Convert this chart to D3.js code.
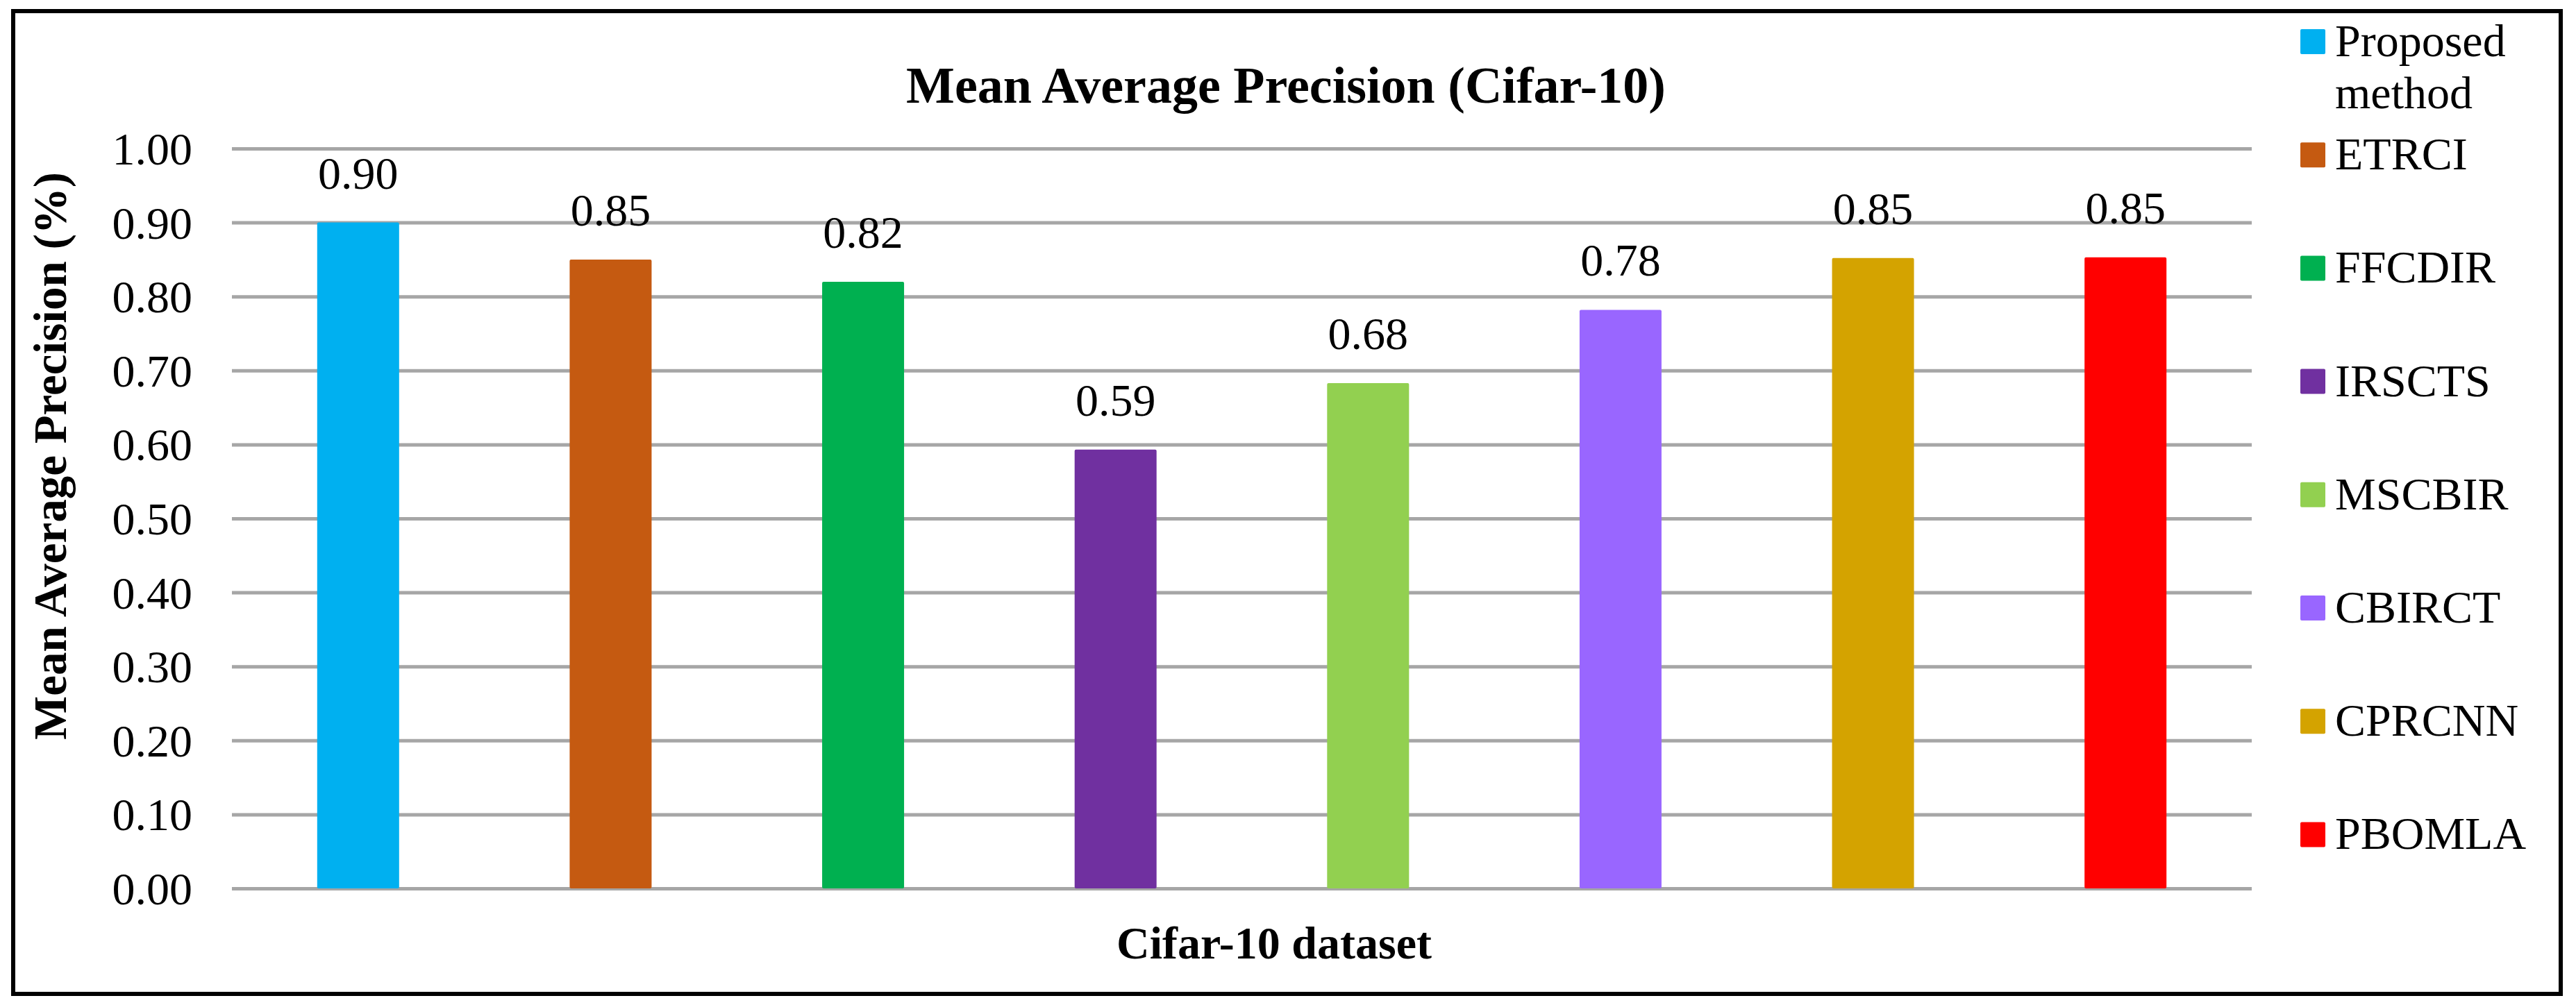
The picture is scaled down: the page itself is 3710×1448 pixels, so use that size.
<!DOCTYPE html>
<html>
<head>
<meta charset="utf-8">
<script src="https://cdn.jsdelivr.net/npm/d3@7/dist/d3.min.js"></script>
<style>
  html, body { margin: 0; padding: 0; background: #fff; }
  svg text { font-family: "Liberation Serif", "Times New Roman", serif; fill: #000; }
</style>
</head>
<body>
<svg id="chart" width="3710" height="1448"></svg>
<script>
// ---- data ----
const categories = ["Proposed method", "ETRCI", "FFCDIR", "IRSCTS", "MSCBIR", "CBIRCT", "CPRCNN", "PBOMLA"];
const values = [0.900, 0.850, 0.820, 0.593, 0.683, 0.782, 0.852, 0.853];
const colors = ["#00B0F0", "#C55A11", "#00B050", "#7030A0", "#92D050", "#9966FF", "#D4A300", "#FF0000"];
const yTicks = [0, 0.1, 0.2, 0.3, 0.4, 0.5, 0.6, 0.7, 0.8, 0.9, 1.0];
const chartTitle = "Mean Average Precision (Cifar-10)";
const yTitle = "Mean Average Precision (%)";
const xTitle = "Cifar-10 dataset";

// ---- layout ----
const FONT = "'Liberation Serif', 'Times New Roman', serif";
const plot = { left: 334, right: 3243, top: 214, bottom: 1280 };

const svg = d3.select("#chart");

// outer border
svg.append("rect")
  .attr("x", 19).attr("y", 16)
  .attr("width", 3669).attr("height", 1416)
  .attr("fill", "#fff").attr("stroke", "#000").attr("stroke-width", 6);

const x = d3.scaleBand().domain(categories).range([plot.left, plot.right]).paddingInner(0.675).paddingOuter(0.3375);
const y = d3.scaleLinear().domain([0, 1]).range([plot.bottom, plot.top]);

// gridlines via axis
const grid = svg.append("g")
  .attr("transform", `translate(${plot.left},0)`)
  .call(d3.axisLeft(y).tickValues(yTicks).tickSize(-(plot.right - plot.left)).tickFormat(""));
grid.select(".domain").remove();
grid.selectAll(".tick line").attr("stroke", "#A6A6A6").attr("stroke-width", 5);

// y tick labels via axis
const yAxis = svg.append("g")
  .attr("transform", `translate(277,0)`)
  .call(d3.axisLeft(y).tickValues(yTicks).tickSize(0).tickPadding(0).tickFormat(d3.format(".2f")));
yAxis.attr("font-family", FONT);
yAxis.select(".domain").remove();
yAxis.selectAll(".tick text")
  .attr("font-size", 66)
  .attr("font-family", FONT)
  .attr("fill", "#000")
  .attr("dy", "0.34em")
  .attr("x", 0);

// bars
const bw = 118;
svg.append("g").selectAll("rect")
  .data(categories)
  .join("rect")
  .attr("x", d => x(d) + x.bandwidth() / 2 - bw / 2)
  .attr("y", (d, i) => y(values[i]))
  .attr("width", bw)
  .attr("height", (d, i) => y(0) - y(values[i]))
  .attr("rx", 2)
  .attr("fill", (d, i) => colors[i]);

// data labels
svg.append("g").selectAll("text")
  .data(categories)
  .join("text")
  .attr("x", d => x(d) + x.bandwidth() / 2)
  .attr("y", (d, i) => y(values[i]) - 49)
  .attr("text-anchor", "middle")
  .attr("font-family", FONT)
  .attr("font-size", 66)
  .text((d, i) => d3.format(".2f")(values[i]));

// chart title
svg.append("text")
  .attr("x", 1852).attr("y", 148)
  .attr("text-anchor", "middle")
  .attr("font-family", FONT)
  .attr("font-size", 74).attr("font-weight", "bold")
  .text(chartTitle);

// y axis title
svg.append("text")
  .attr("transform", "translate(95,657) rotate(-90)")
  .attr("text-anchor", "middle")
  .attr("font-family", FONT)
  .attr("font-size", 67).attr("font-weight", "bold")
  .text(yTitle);

// x axis title
svg.append("text")
  .attr("x", 1835).attr("y", 1381)
  .attr("text-anchor", "middle")
  .attr("font-family", FONT)
  .attr("font-size", 66).attr("font-weight", "bold")
  .text(xTitle);

// legend
const legendX = 3313, legendTextX = 3363, legendTop = 81, legendStep = 163.2, maxTextW = 300;
const lg = svg.append("g");
categories.forEach((c, i) => {
  const by = legendTop + i * legendStep;
  lg.append("rect")
    .attr("x", legendX).attr("y", by - 39)
    .attr("width", 36).attr("height", 36)
    .attr("rx", 2)
    .attr("fill", colors[i]);
  const t = lg.append("text")
    .attr("x", legendTextX).attr("y", by)
    .attr("font-family", FONT)
    .attr("font-size", 66);
  // word wrap
  const words = c.split(" ");
  let line = [];
  let tspan = t.append("tspan").attr("x", legendTextX).attr("dy", 0);
  words.forEach(w => {
    line.push(w);
    tspan.text(line.join(" "));
    if (tspan.node().getComputedTextLength() > maxTextW && line.length > 1) {
      line.pop();
      tspan.text(line.join(" "));
      line = [w];
      tspan = t.append("tspan").attr("x", legendTextX).attr("dy", 75).text(w);
    }
  });
});
</script>
</body>
</html>
